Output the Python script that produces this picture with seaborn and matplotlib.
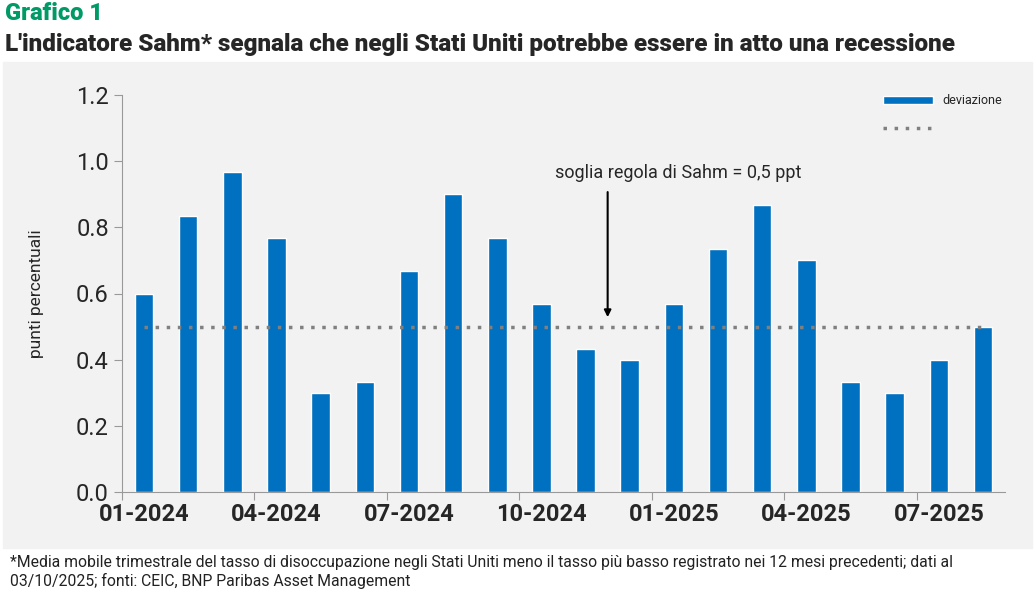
import matplotlib
matplotlib.use("Agg")
import matplotlib.pyplot as plt
from matplotlib.patches import Rectangle
import seaborn as sns
import pandas as pd

months = ["01-2024", "02-2024", "03-2024", "04-2024", "05-2024", "06-2024", "07-2024", "08-2024",
          "09-2024", "10-2024", "11-2024", "12-2024", "01-2025", "02-2025", "03-2025", "04-2025",
          "05-2025", "06-2025", "07-2025", "08-2025"]
deviazione = [0.6, 0.833, 0.967, 0.767, 0.3, 0.333, 0.667, 0.9, 0.767, 0.567, 0.433, 0.4,
              0.567, 0.733, 0.867, 0.7, 0.333, 0.3, 0.4, 0.5]
soglia = 0.5
yticks = [0.0, 0.2, 0.4, 0.6, 0.8, 1.0, 1.2]

sns.set_style("white")
plt.rcParams['font.family'] = ['Roboto', 'DejaVu Sans']

df = pd.DataFrame({"mese": months, "deviazione": deviazione})
fig = plt.figure(figsize=(10.35, 5.95), dpi=100)
bg = Rectangle((0.003, 1 - 548 / 595), 0.994, (548 - 62) / 595,
               transform=fig.transFigure, color="#f2f2f2", zorder=-10)
fig.add_artist(bg)
ax = fig.add_axes([122 / 1035, 1 - 492 / 595, (1005 - 122) / 1035, (492 - 95) / 595])
ax.set_facecolor("#f2f2f2")
sns.barplot(data=df, x="mese", y="deviazione", color="#0070c0", width=0.42,
            saturation=1, ax=ax, label="deviazione")
ax.plot([0, len(months) - 1], [soglia, soglia], linestyle=(0, (1, 2.2)), color="#808080",
        lw=2.5, label=" ")
ax.set_xlim(-0.5, len(months) - 0.5)
ax.set_ylim(0, 1.2)
ax.set_yticks(yticks)
ax.set_yticklabels([f"{v:.1f}" for v in yticks], fontsize=17)
ax.set_xticks([i - 0.5 for i in range(0, len(months), 3)])
ax.set_xticklabels([])
ax.set_xticks(range(0, len(months), 3), minor=True)
ax.set_xticklabels([months[i] for i in range(0, len(months), 3)], minor=True,
                   fontsize=17, fontweight="bold")
ax.tick_params(axis="x", which="minor", length=0, pad=8)
ax.tick_params(axis="x", which="major", length=6, color="#999999", direction="out", bottom=True)
ax.tick_params(axis="y", length=6, color="#999999", direction="out", left=True)
for s in ["top", "right"]:
    ax.spines[s].set_visible(False)
for s in ["left", "bottom"]:
    ax.spines[s].set_color("#999999")
ax.set_xlabel("")
ax.set_ylabel("punti percentuali", fontsize=12.5)
ax.yaxis.set_label_coords(-0.088, 0.5)
h, l = ax.get_legend_handles_labels()
order = [l.index("deviazione"), l.index(" ")]
ax.legend([h[i] for i in order], [l[i] for i in order], loc="upper right", frameon=False,
          fontsize=9, bbox_to_anchor=(1.01, 1.03), handlelength=4, labelspacing=1.2)
ax.annotate("", xy=(10.5, 0.52), xytext=(10.5, 0.915),
            arrowprops=dict(arrowstyle="-|>", color="black", lw=1.5))
ax.text(12.1, 0.964, "soglia regola di Sahm = 0,5 ppt", ha="center", va="center", fontsize=13)

fig.text(0.005, 1 - 14 / 595, "Grafico 1", color="#009a66", fontsize=17, fontweight="black", va="center")
fig.text(0.005, 1 - 45 / 595, "L'indicatore Sahm* segnala che negli Stati Uniti potrebbe essere in atto una recessione",
         fontsize=17.5, fontweight="black", va="center")
fig.text(0.01, 1 - 572 / 595,
         "*Media mobile trimestrale del tasso di disoccupazione negli Stati Uniti meno il tasso più basso registrato nei 12 mesi precedenti; dati al\n03/10/2025; fonti: CEIC, BNP Paribas Asset Management",
         fontsize=11.3, va="center", color="#222222")
fig.savefig("out.png", dpi=100)
